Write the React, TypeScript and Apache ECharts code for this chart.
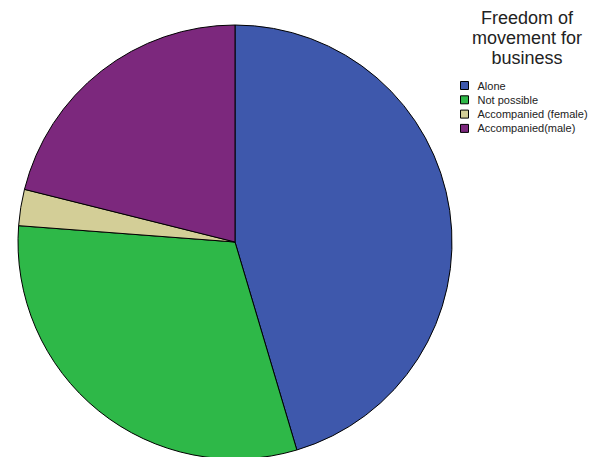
import React, { useEffect, useRef } from "react";
import * as echarts from "echarts";

const categories = ["Alone", "Not possible", "Accompanied (female)", "Accompanied(male)"];
const values = [45.4, 30.8, 2.7, 21.1];
const colors = ["#3E58AC", "#2EB848", "#D3CE97", "#7C287D"];
const titleLines = ["Freedom of", "movement for", "business"];

export default function App() {
  const ref = useRef<HTMLDivElement>(null);
  useEffect(() => {
    const chart = echarts.init(ref.current!, null, { renderer: "svg" });
    chart.setOption({
      animation: false,
      graphic: [
        {
          type: "text",
          x: 527,
          y: 8,
          style: {
            text: titleLines.join("\n"),
            font: "18px 'Liberation Sans', Arial, sans-serif",
            fill: "#222",
            textAlign: "center",
            textVerticalAlign: "top",
            lineHeight: 20,
          },
        },
      ],
      legend: {
        orient: "vertical",
        left: 455,
        top: 75,
        itemWidth: 8,
        itemHeight: 8,
        itemGap: 3.3,
        icon: "rect",
        data: categories,
        itemStyle: { borderColor: "#000", borderWidth: 1 },
        textStyle: {
          fontFamily: "'Liberation Sans', Arial, sans-serif",
          fontSize: 11,
          lineHeight: 10,
          color: "#222",
          padding: [0, 0, 0, 4],
        },
      },
      series: [
        {
          type: "pie",
          center: [235, 242],
          radius: 217,
          startAngle: 90,
          clockwise: true,
          label: { show: false },
          labelLine: { show: false },
          itemStyle: { borderColor: "#000", borderWidth: 1 },
          emphasis: { disabled: true },
          data: categories.map((name, i) => ({
            name,
            value: values[i],
            itemStyle: { color: colors[i] },
          })),
        },
      ],
    });
    return () => chart.dispose();
  }, []);
  return (
    <div
      ref={ref}
      style={{ position: "absolute", left: 0, top: 0, width: 594, height: 457 }}
    />
  );
}
